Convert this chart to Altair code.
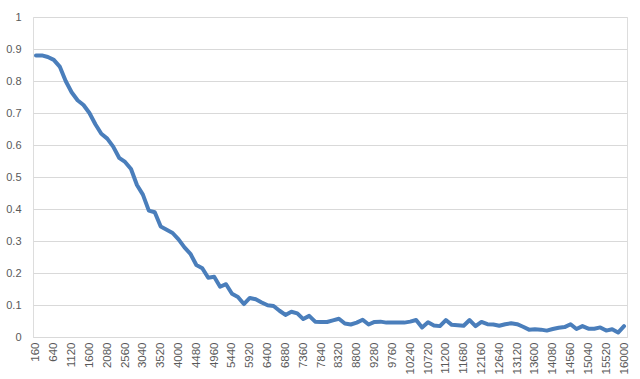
import altair as alt
import pandas as pd

# Categories: 160 .. 16000 step 160 (100 categories)
categories = [160 * (i + 1) for i in range(100)]

values = [
    0.880, 0.880, 0.875, 0.866, 0.845, 0.800, 0.765, 0.740, 0.725, 0.700,
    0.665, 0.635, 0.620, 0.595, 0.560, 0.547, 0.525, 0.475, 0.445, 0.395,
    0.390, 0.345, 0.335, 0.325, 0.305, 0.280, 0.260, 0.225, 0.215, 0.185,
    0.188, 0.157, 0.165, 0.135, 0.125, 0.103, 0.122, 0.118, 0.108, 0.099,
    0.097, 0.082, 0.069, 0.079, 0.074, 0.056, 0.066, 0.048, 0.047, 0.047,
    0.052, 0.057, 0.042, 0.039, 0.045, 0.054, 0.039, 0.047, 0.048, 0.045,
    0.045, 0.045, 0.045, 0.048, 0.053, 0.030, 0.046, 0.036, 0.034, 0.053,
    0.038, 0.037, 0.035, 0.053, 0.034, 0.047, 0.040, 0.039, 0.035, 0.040,
    0.043, 0.040, 0.032, 0.023, 0.024, 0.023, 0.020, 0.025, 0.029, 0.031,
    0.040, 0.025, 0.034, 0.026, 0.026, 0.030, 0.020, 0.024, 0.014, 0.034,
]

tick_labels = [160 + 480 * k for k in range(34)]
y_ticks = [round(0.1 * k, 1) for k in range(11)]

df = pd.DataFrame({"x": categories, "y": values})

FONT = "Liberation Sans"
GREY = "#595959"
GRID = "#d9d9d9"

chart = (
    alt.Chart(df)
    .mark_line(color="#4a7ebb", strokeWidth=4, strokeJoin="round", strokeCap="round")
    .encode(
        x=alt.X(
            "x:O",
            sort=None,
            scale=alt.Scale(type="point", padding=0.5),
            axis=alt.Axis(
                values=tick_labels,
                title=None,
                labelAngle=-90,
                labelFont=FONT,
                labelFontSize=11.5,
                labelColor=GREY,
                labelPadding=5,
                ticks=False,
                domain=True,
                domainColor=GRID,
                grid=False,
                labelAlign="right",
                labelBaseline="middle",
            ),
        ),
        y=alt.Y(
            "y:Q",
            scale=alt.Scale(domain=[0, 1], nice=False, zero=True),
            axis=alt.Axis(
                values=y_ticks,
                format="~g",
                title=None,
                labelFont=FONT,
                labelFontSize=11,
                labelColor=GREY,
                labelPadding=12,
                ticks=False,
                domain=False,
                grid=True,
                gridColor=GRID,
                gridWidth=1,
            ),
        ),
    )
    .properties(
        width=594,
        height=320,
        autosize=alt.AutoSizeParams(type="none"),
        padding={"left": 33, "top": 17, "right": 13, "bottom": 42},
    )
    .configure_view(stroke=None)
    .configure(background="white")
)

chart.save("out.html", embed_options={"renderer": "svg", "actions": False})
